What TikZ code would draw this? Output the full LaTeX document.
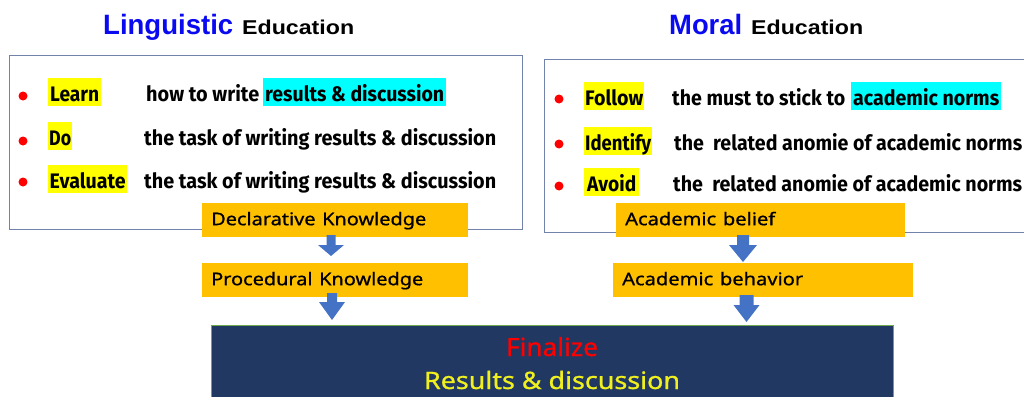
\documentclass[tikz,border=0pt]{standalone}
\usepackage{fontspec}
\usepackage{graphicx}
\usetikzlibrary{calc}
\setmainfont{Liberation Sans}
\newfontfamily\titlefont{Liberation Sans}
\newfontfamily\dinfont{Fira Sans}
\newfontfamily\boxfont{Noto Sans}[FakeBold=0.8]
\newcommand\fw[2]{\resizebox{#1pt}{\height}{#2}}
\definecolor{titleblue}{RGB}{10,10,240}
\definecolor{boxline}{RGB}{115,130,170}
\definecolor{hlyellow}{RGB}{255,255,0}
\definecolor{hlcyan}{RGB}{0,255,255}
\definecolor{orangebox}{RGB}{255,192,0}
\definecolor{arrowblue}{RGB}{68,114,196}
\definecolor{darkbox}{RGB}{33,56,98}
\definecolor{greenline}{RGB}{110,170,80}
\definecolor{finyellow}{RGB}{240,240,30}
\tikzset{
  panel/.style={draw=boxline, line width=1.3pt, fill=white, inner sep=0, anchor=north west},
  hl/.style={inner sep=0, text height=23pt, text depth=5pt, anchor=base west, font=\dinfont\bfseries\fontsize{21}{21}\selectfont},
  bodytext/.style={inner sep=0, anchor=base west, font=\dinfont\bfseries\fontsize{21}{21}\selectfont},
  bulletdot/.style={circle, fill=red, inner sep=0, minimum size=9pt},
  obox/.style={fill=orangebox, inner xsep=9pt, inner ysep=0, minimum height=34pt, text height=14pt, text depth=4pt, align=left, anchor=north west, font=\boxfont\fontsize{17.5}{17.5}\selectfont},
  barrow/.style={fill=arrowblue, draw=none},
  ttl/.style={inner sep=0, anchor=base west, font=\titlefont\bfseries}
}
\begin{document}
\begin{tikzpicture}[x=1pt,y=-1pt]
\useasboundingbox (0,0) rectangle (1024,396);
% titles
\node[ttl, text=titleblue, font=\titlefont\bfseries\fontsize{28}{28}\selectfont] (lingt) at (103,35) {\fw{130}{Linguistic}};
\node[ttl, font=\titlefont\bfseries\fontsize{20}{20}\selectfont] (lingedu) at (242,35) {\fw{112}{Education}};
\node[ttl, text=titleblue, font=\titlefont\bfseries\fontsize{28}{28}\selectfont] (moralt) at (669,35) {\fw{73}{Moral}};
\node[ttl, font=\titlefont\bfseries\fontsize{20}{20}\selectfont] (moraledu) at (751,35) {\fw{112}{Education}};
% panels
\node[panel, minimum width=513pt, minimum height=174pt] (lpanel) at (9,55) {};
\node[panel, minimum width=500pt, minimum height=173pt] (rpanel) at (544,59) {};
% left rows
\node[bulletdot] (lb1) at (23,96) {};
\node[bulletdot] (lb2) at (23,141) {};
\node[bulletdot] (lb3) at (23,182) {};
\node[hl, fill=hlyellow, minimum width=53pt] (learn) at (48,101) {\fw{49}{Learn}};
\node[bodytext] (l1a) at (146,101) {\fw{113}{how to write}};
\node[hl, fill=hlcyan, minimum width=183pt] (l1b) at (263,101) {\fw{179}{results \& discussion}};
\node[hl, fill=hlyellow, minimum width=24pt] (do) at (48,145) {\fw{22}{Do}};
\node[bodytext] (l2) at (144,145) {\fw{352}{the task of writing results \& discussion}};
\node[hl, fill=hlyellow, minimum width=79pt] (eval) at (48,188) {\fw{76}{Evaluate}};
\node[bodytext] (l3) at (144,188) {\fw{352}{the task of writing results \& discussion}};
% right rows
\node[bulletdot] (rb1) at (559,99) {};
\node[bulletdot] (rb2) at (559,144) {};
\node[bulletdot] (rb3) at (559,186) {};
\node[hl, fill=hlyellow, minimum width=60pt] (follow) at (584,105) {\fw{58}{Follow}};
\node[bodytext] (r1a) at (672,105) {\fw{173}{the must to stick to}};
\node[hl, fill=hlcyan, minimum width=150pt] (r1b) at (851,105) {\fw{146}{academic norms}};
\node[hl, fill=hlyellow, minimum width=68pt] (identify) at (584,150) {\fw{66}{Identify}};
\node[bodytext] (r2) at (674,150) {\fw{348}{the\ \ related anomie of academic norms}};
\node[hl, fill=hlyellow, minimum width=55pt] (avoid) at (584,191) {\fw{49}{Avoid}};
\node[bodytext] (r3) at (673,191) {\fw{349}{the\ \ related anomie of academic norms}};
% orange boxes
\node[obox, text width=248pt] (dk) at (202,203) {\fw{215}{Declarative Knowledge}};
\node[obox, text width=248pt] (pk) at (202,263) {\fw{212}{Procedural Knowledge}};
\node[obox, text width=271pt] (ab) at (616,203) {\fw{150}{Academic belief}};
\node[obox, text width=282pt] (abh) at (613,263) {\fw{181}{Academic behavior}};
% final box
\node[fill=darkbox, draw=greenline, line width=1pt, inner sep=0, minimum width=682pt, minimum height=85pt, anchor=north west] (final) at (211,325) {};
\node[inner sep=0, anchor=base, text=red, font=\boxfont\fontsize{25}{25}\selectfont] (fin1) at (552,356) {\fw{92}{Finalize}};
\node[inner sep=0, anchor=base, text=finyellow, font=\boxfont\fontsize{24}{24}\selectfont] (fin2) at (552,389) {\fw{256}{Results \& discussion}};
% block arrows
\coordinate (a1) at (331,235);
\coordinate (a2) at (332,293);
\coordinate (a3) at (743,235);
\coordinate (a4) at (746.5,295);
\fill[barrow] ($(a1)+(-4.5,0)$) -- ++(9,0) -- ++(0,10) -- ($(a1)+(13,10)$) -- ($(a1)+(0,21)$) -- ($(a1)+(-13,10)$) -- ($(a1)+(-4.5,10)$) -- cycle;
\fill[barrow] ($(a2)+(-5,0)$) -- ++(10,0) -- ++(0,9) -- ($(a2)+(13,9)$) -- ($(a2)+(0,27)$) -- ($(a2)+(-13,9)$) -- ($(a2)+(-5,9)$) -- cycle;
\fill[barrow] ($(a3)+(-6,0)$) -- ++(12,0) -- ++(0,10) -- ($(a3)+(14,10)$) -- ($(a3)+(0,27)$) -- ($(a3)+(-14,10)$) -- ($(a3)+(-6,10)$) -- cycle;
\fill[barrow] ($(a4)+(-7,0)$) -- ++(14,0) -- ++(0,10) -- ($(a4)+(13,10)$) -- ($(a4)+(0,27)$) -- ($(a4)+(-13,10)$) -- ($(a4)+(-7,10)$) -- cycle;
\end{tikzpicture}
\end{document}
